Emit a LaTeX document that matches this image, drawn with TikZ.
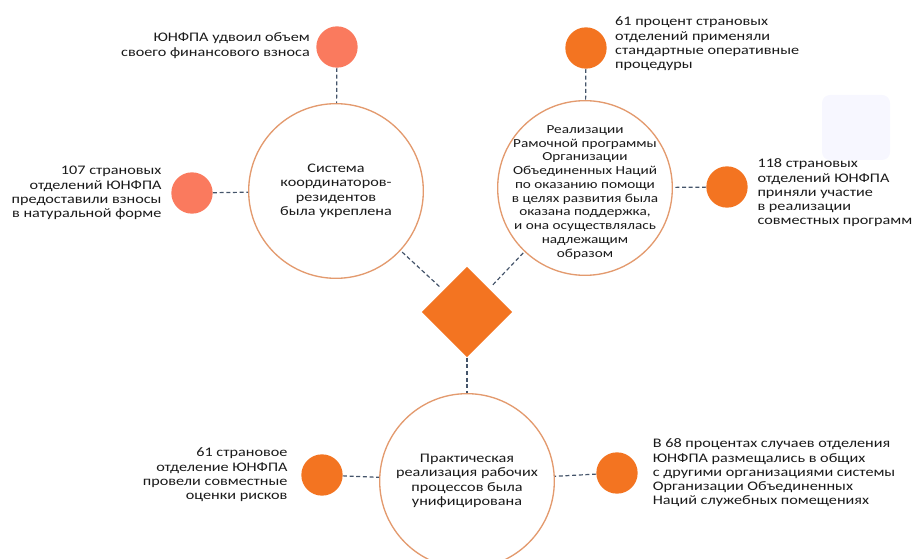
\documentclass[tikz,border=0pt]{standalone}
\usepackage{fontspec}
\setmainfont[FakeStretch=1.24]{Carlito}
\usetikzlibrary{positioning,shapes.geometric}
\definecolor{ringc}{HTML}{E39A6E}
\definecolor{pinkc}{HTML}{FA7A5E}
\definecolor{orangec}{HTML}{F37421}
\definecolor{linkc}{HTML}{44546A}
\definecolor{txtc}{HTML}{1A1A1A}
\tikzset{
    bigcirc/.style = {circle, draw=ringc, line width=1pt, fill=white, minimum size=131pt,
        inner sep=0pt, align=center, text=txtc, font=\fontsize{9.8}{10.8}\selectfont},
    dot/.style = {circle, minimum size=31pt, inner sep=0pt},
    note/.style = {text=txtc, inner sep=0pt, font=\fontsize{9.8}{10.7}\selectfont},
    link/.style = {draw=linkc, line width=0.9pt, dash pattern=on 3pt off 2pt}
}
\begin{document}
\begin{tikzpicture}[x=0.75pt, y=-0.75pt]
        \useasboundingbox (0,0) rectangle (915,559);
        % faint panel in the corner
        \fill[blue!3, rounded corners=6pt] (822,95) rectangle (890,160);
        % big circles
        \node[bigcirc] (system) at (336,191) {Система\\координаторов-\\резидентов\\была укреплена};
        \node[bigcirc] (frame) at (585,188) {};
        \node[note, align=center, font=\fontsize{9.2}{10.3}\selectfont, below=-47pt of frame.center] (frametext) {Реализации\\Рамочной программы\\Организации\\Объединенных Наций\\по оказанию помощи\\в целях развития была\\оказана поддержка,\\и она осуществлялась\\надлежащим\\образом};
        \node[bigcirc] (practice) at (467,481) {Практическая\\реализация рабочих\\процессов была\\унифицирована};
        \node[diamond, fill=orangec, inner sep=0pt, minimum width=68pt, minimum height=68pt] (hub) at (467,312) {};
        % small dots
        \node[dot, fill=pinkc] (dotA) at (337,47) {};
        \node[dot, fill=pinkc] (dotB) at (192,193) {};
        \node[dot, fill=orangec] (dotC) at (586,48) {};
        \node[dot, fill=orangec] (dotD) at (727,187) {};
        \node[dot, fill=orangec] (dotE) at (322,475) {};
        \node[dot, fill=orangec] (dotF) at (617,473) {};
        % notes
        \node[note, align=right, left=4.5pt of dotA, yshift=1pt] (noteA) {ЮНФПА удвоил объем\\своего финансового взноса};
        \node[note, align=right, left=7pt of dotB] (noteB) {107 страновых\\отделений ЮНФПА\\предоставили взносы\\в натуральной форме};
        \node[note, align=left, right=6pt of dotC, yshift=3pt] (noteC) {61 процент страновых\\отделений применяли\\стандартные оперативные\\процедуры};
        \node[note, align=left, right=7pt of dotD, yshift=-4.5pt] (noteD) {118 страновых\\отделений ЮНФПА\\приняли участие\\в реализации\\совместных программ};
        \node[note, align=right, left=10pt of dotE] (noteE) {61 страновое\\отделение ЮНФПА\\провели совместные\\оценки рисков};
        \node[note, align=left, right=11pt of dotF] (noteF) {В 68 процентах случаев отделения\\ЮНФПА размещались в общих\\с другими организациями системы\\Организации Объединенных\\Наций служебных помещениях};
        % dashed links
        \draw[link] (dotA) -- (system);
        \draw[link] (dotB) -- (system);
        \draw[link] (dotC) -- (frame);
        \draw[link] (dotD) -- (frame);
        \draw[link] (dotE) -- (practice);
        \draw[link] (dotF) -- (practice);
        \draw[link, shorten <=4pt] (hub) -- (system);
        \draw[link, shorten <=4pt] (hub) -- (frame);
        \draw[link] (hub) -- (practice);
    \end{tikzpicture}
\end{document}
